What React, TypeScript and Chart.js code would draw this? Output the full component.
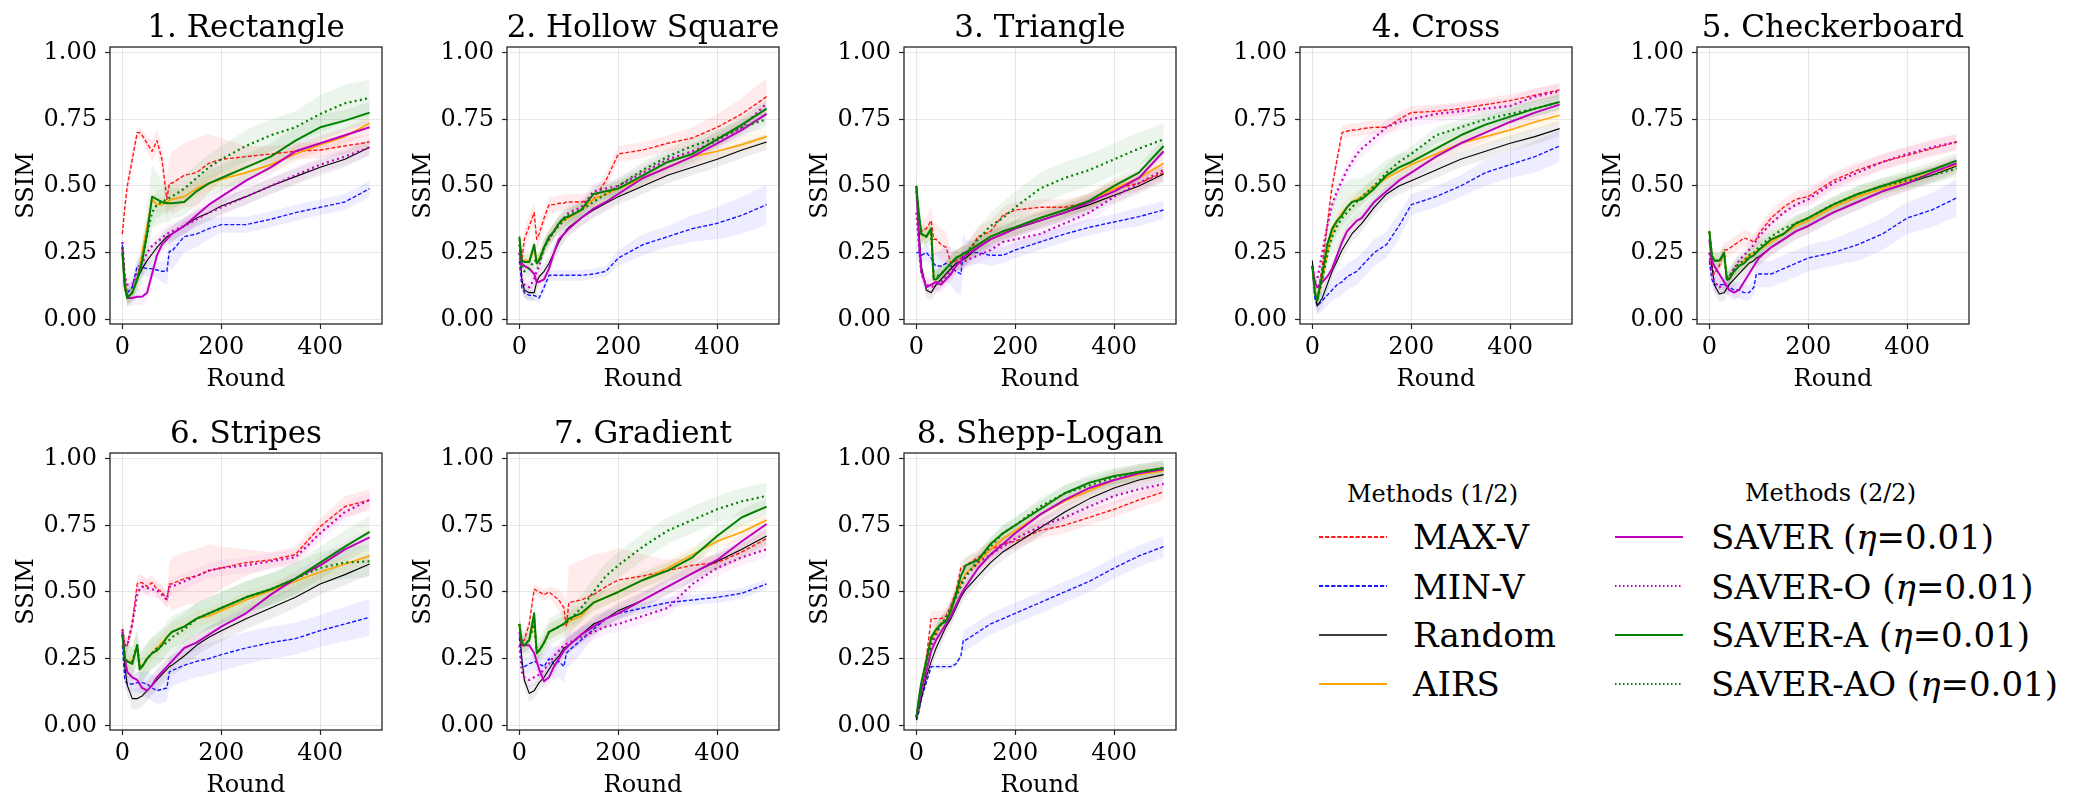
import React, { useEffect, useRef } from "react";
import { Chart, registerables } from "chart.js";
Chart.register(...registerables);

const ROUNDS = [0, 5, 10, 20, 30, 35, 40, 50, 60, 70, 80, 90, 95, 100, 125, 150, 175, 200, 250, 300, 350, 400, 450, 500];
const Y_TICKS = [0, 0.25, 0.5, 0.75, 1.0];
const X_TICKS = [0, 200, 400];
const METHODS = ["MAX-V", "MIN-V", "Random", "AIRS", "SAVER (η=0.01)", "SAVER-O (η=0.01)", "SAVER-A (η=0.01)", "SAVER-AO (η=0.01)"];
const PANEL_TITLES = ["1. Rectangle", "2. Hollow Square", "3. Triangle", "4. Cross", "5. Checkerboard", "6. Stripes", "7. Gradient", "8. Shepp-Logan"];

// ---------- 1. Rectangle ----------
const P1_MAXV = [0.32,0.42,0.50,0.60,0.70,0.70,0.69,0.66,0.63,0.67,0.60,0.45,0.51,0.51,0.54,0.55,0.585,0.60,0.61,0.62,0.63,0.635,0.65,0.665];
const P1_MAXV_SD = [0.02,0.03,0.04,0.04,0.02,0.02,0.02,0.03,0.04,0.04,0.05,0.08,0.10,0.12,0.12,0.13,0.11,0.08,0.04,0.03,0.03,0.03,0.03,0.03];
const P1_MINV = [0.28,0.15,0.10,0.12,0.20,0.20,0.195,0.19,0.19,0.185,0.18,0.18,0.255,0.255,0.31,0.32,0.34,0.355,0.355,0.375,0.40,0.42,0.44,0.49];
const P1_MINV_SD = [0.02,0.03,0.03,0.03,0.03,0.03,0.03,0.03,0.03,0.03,0.04,0.05,0.06,0.07,0.06,0.05,0.04,0.03,0.03,0.03,0.03,0.03,0.03,0.03];
const P1_RANDOM = [0.27,0.15,0.08,0.10,0.15,0.17,0.19,0.22,0.245,0.27,0.29,0.31,0.315,0.32,0.35,0.38,0.40,0.425,0.46,0.50,0.535,0.57,0.60,0.645];
const P1_AIRS = [0.25,0.15,0.08,0.10,0.15,0.20,0.25,0.35,0.45,0.43,0.43,0.44,0.445,0.45,0.46,0.49,0.51,0.525,0.55,0.58,0.62,0.655,0.685,0.735];
const P1_SAVER = [0.27,0.12,0.08,0.08,0.085,0.085,0.085,0.10,0.17,0.24,0.28,0.30,0.31,0.32,0.35,0.39,0.43,0.46,0.52,0.57,0.63,0.66,0.69,0.72];
const P1_SAVERO = [0.29,0.16,0.13,0.13,0.17,0.19,0.21,0.25,0.275,0.29,0.305,0.32,0.325,0.33,0.35,0.375,0.40,0.42,0.46,0.50,0.54,0.58,0.61,0.645];
const P1_SAVERA = [0.25,0.12,0.08,0.10,0.15,0.18,0.22,0.32,0.46,0.45,0.44,0.435,0.435,0.435,0.44,0.48,0.51,0.53,0.57,0.61,0.67,0.72,0.745,0.775];
const P1_SAVERA_SD = [0.03,0.03,0.03,0.04,0.06,0.07,0.08,0.10,0.12,0.10,0.08,0.07,0.07,0.06,0.05,0.05,0.05,0.05,0.05,0.05,0.05,0.05,0.04,0.04];
const P1_SAVERAO = [0.27,0.13,0.09,0.10,0.15,0.18,0.22,0.32,0.40,0.43,0.44,0.45,0.455,0.46,0.49,0.53,0.57,0.60,0.65,0.69,0.72,0.77,0.81,0.83];
const P1_SAVERAO_SD = [0.03,0.03,0.03,0.03,0.04,0.04,0.05,0.05,0.05,0.05,0.05,0.05,0.05,0.05,0.05,0.05,0.05,0.05,0.06,0.06,0.06,0.07,0.07,0.07];

// ---------- 2. Hollow Square ----------
const P2_MAXV = [0.28,0.22,0.30,0.35,0.40,0.30,0.32,0.38,0.43,0.43,0.435,0.435,0.44,0.44,0.44,0.45,0.52,0.62,0.635,0.66,0.68,0.72,0.77,0.835];
const P2_MAXV_SD = [0.04,0.04,0.04,0.04,0.04,0.04,0.04,0.03,0.03,0.03,0.03,0.03,0.03,0.03,0.03,0.03,0.03,0.03,0.03,0.03,0.04,0.05,0.06,0.07];
const P2_MINV = [0.22,0.12,0.10,0.09,0.09,0.085,0.08,0.12,0.165,0.165,0.165,0.165,0.165,0.165,0.165,0.17,0.18,0.23,0.28,0.31,0.34,0.36,0.39,0.43];
const P2_MINV_SD = [0.02,0.02,0.02,0.02,0.02,0.02,0.02,0.02,0.02,0.02,0.02,0.02,0.02,0.02,0.02,0.02,0.02,0.03,0.04,0.04,0.05,0.06,0.07,0.075];
const P2_RANDOM = [0.30,0.15,0.11,0.10,0.10,0.14,0.16,0.18,0.21,0.25,0.29,0.32,0.335,0.345,0.38,0.41,0.435,0.46,0.50,0.54,0.57,0.60,0.635,0.665];
const P2_AIRS = [0.30,0.22,0.22,0.22,0.26,0.22,0.23,0.27,0.31,0.33,0.36,0.37,0.375,0.38,0.41,0.45,0.47,0.49,0.53,0.57,0.61,0.63,0.655,0.685];
const P2_SAVER = [0.25,0.21,0.20,0.19,0.17,0.14,0.14,0.15,0.19,0.25,0.30,0.32,0.33,0.34,0.38,0.415,0.44,0.47,0.53,0.57,0.61,0.66,0.71,0.77];
const P2_SAVERO = [0.25,0.15,0.13,0.12,0.15,0.18,0.20,0.27,0.30,0.33,0.36,0.38,0.39,0.40,0.42,0.48,0.49,0.50,0.55,0.60,0.63,0.67,0.72,0.81];
const P2_SAVERA = [0.31,0.22,0.215,0.215,0.28,0.21,0.22,0.27,0.31,0.33,0.36,0.38,0.383,0.385,0.41,0.47,0.48,0.49,0.54,0.59,0.62,0.675,0.73,0.79];
const P2_SAVERAO = [0.28,0.20,0.18,0.19,0.22,0.22,0.22,0.27,0.30,0.33,0.35,0.37,0.38,0.39,0.41,0.44,0.47,0.50,0.56,0.61,0.65,0.68,0.72,0.75];

// ---------- 3. Triangle ----------
const P3_MAXV = [0.45,0.38,0.33,0.34,0.37,0.30,0.30,0.28,0.27,0.21,0.22,0.23,0.235,0.24,0.31,0.33,0.39,0.41,0.42,0.42,0.44,0.49,0.51,0.55];
const P3_MAXV_SD = [0.05,0.05,0.04,0.04,0.05,0.06,0.06,0.06,0.06,0.04,0.04,0.04,0.04,0.04,0.04,0.04,0.03,0.03,0.03,0.03,0.03,0.03,0.03,0.03];
const P3_MINV = [0.25,0.25,0.24,0.25,0.23,0.21,0.20,0.20,0.21,0.20,0.18,0.17,0.25,0.25,0.25,0.24,0.24,0.26,0.29,0.32,0.345,0.365,0.385,0.41];
const P3_MINV_SD = [0.03,0.03,0.03,0.03,0.03,0.04,0.05,0.06,0.07,0.07,0.08,0.08,0.07,0.05,0.04,0.04,0.03,0.03,0.03,0.03,0.03,0.03,0.035,0.035];
const P3_RANDOM = [0.50,0.35,0.20,0.11,0.10,0.115,0.13,0.15,0.17,0.19,0.21,0.22,0.225,0.23,0.27,0.30,0.32,0.34,0.37,0.40,0.43,0.465,0.50,0.545];
const P3_AIRS = [0.50,0.35,0.32,0.31,0.33,0.15,0.15,0.17,0.19,0.21,0.23,0.24,0.245,0.25,0.28,0.31,0.33,0.345,0.38,0.41,0.445,0.49,0.53,0.585];
const P3_SAVER = [0.50,0.30,0.18,0.12,0.13,0.135,0.14,0.13,0.15,0.17,0.20,0.22,0.23,0.24,0.27,0.30,0.32,0.34,0.37,0.40,0.44,0.48,0.53,0.63];
const P3_SAVERO = [0.40,0.28,0.17,0.13,0.12,0.125,0.13,0.14,0.16,0.18,0.20,0.21,0.215,0.22,0.24,0.26,0.29,0.30,0.32,0.36,0.40,0.46,0.51,0.56];
const P3_SAVERA = [0.50,0.40,0.32,0.31,0.34,0.15,0.15,0.17,0.19,0.21,0.23,0.24,0.245,0.25,0.28,0.31,0.33,0.345,0.38,0.41,0.445,0.50,0.55,0.65];
const P3_SAVERAO = [0.48,0.38,0.32,0.31,0.32,0.16,0.16,0.17,0.19,0.21,0.23,0.24,0.245,0.25,0.30,0.35,0.38,0.42,0.49,0.53,0.56,0.60,0.64,0.675];
const P3_SAVERAO_SD = [0.04,0.04,0.04,0.04,0.04,0.03,0.03,0.03,0.03,0.03,0.03,0.03,0.03,0.03,0.04,0.05,0.06,0.06,0.06,0.06,0.06,0.06,0.06,0.06];

// ---------- 4. Cross ----------
const P4_MAXV = [0.20,0.10,0.08,0.20,0.35,0.43,0.50,0.60,0.70,0.705,0.71,0.71,0.712,0.715,0.72,0.72,0.75,0.775,0.78,0.79,0.805,0.82,0.84,0.86];
const P4_MINV = [0.20,0.08,0.05,0.07,0.09,0.10,0.11,0.13,0.14,0.16,0.17,0.18,0.19,0.20,0.25,0.28,0.35,0.43,0.46,0.50,0.55,0.58,0.61,0.65];
const P4_MINV_SD = [0.03,0.03,0.03,0.04,0.04,0.04,0.04,0.05,0.05,0.05,0.05,0.05,0.05,0.05,0.05,0.05,0.05,0.04,0.04,0.04,0.05,0.05,0.06,0.06];
const P4_RANDOM = [0.22,0.10,0.05,0.08,0.13,0.155,0.18,0.22,0.26,0.29,0.32,0.34,0.35,0.36,0.42,0.47,0.50,0.52,0.56,0.60,0.63,0.66,0.685,0.715];
const P4_AIRS = [0.20,0.10,0.07,0.15,0.25,0.29,0.32,0.37,0.40,0.42,0.44,0.45,0.455,0.46,0.50,0.53,0.555,0.58,0.62,0.66,0.685,0.71,0.74,0.765];
const P4_SAVER = [0.20,0.14,0.12,0.14,0.16,0.175,0.19,0.24,0.29,0.33,0.35,0.37,0.375,0.38,0.44,0.48,0.52,0.55,0.61,0.66,0.70,0.74,0.775,0.805];
const P4_SAVERO = [0.20,0.14,0.15,0.25,0.35,0.39,0.43,0.48,0.52,0.56,0.59,0.62,0.63,0.64,0.68,0.72,0.74,0.75,0.77,0.78,0.79,0.80,0.835,0.855];
const P4_SAVERA = [0.20,0.10,0.07,0.17,0.28,0.31,0.34,0.37,0.39,0.42,0.44,0.445,0.448,0.45,0.49,0.54,0.57,0.59,0.64,0.69,0.73,0.76,0.79,0.815];
const P4_SAVERA_SD = [0.04,0.04,0.04,0.06,0.08,0.09,0.10,0.11,0.11,0.10,0.09,0.08,0.08,0.08,0.07,0.06,0.05,0.04,0.04,0.04,0.03,0.03,0.03,0.03];
const P4_SAVERAO = [0.20,0.10,0.07,0.15,0.24,0.28,0.31,0.35,0.38,0.40,0.42,0.44,0.45,0.46,0.50,0.55,0.59,0.62,0.69,0.72,0.75,0.77,0.79,0.815];

// ---------- 5. Checkerboard ----------
const P5_MAXV = [0.25,0.20,0.17,0.20,0.26,0.26,0.265,0.28,0.29,0.305,0.30,0.29,0.30,0.32,0.38,0.42,0.45,0.46,0.52,0.56,0.59,0.615,0.64,0.665];
const P5_MINV = [0.22,0.15,0.13,0.13,0.13,0.125,0.12,0.11,0.11,0.10,0.10,0.12,0.17,0.17,0.17,0.19,0.21,0.23,0.25,0.28,0.32,0.38,0.41,0.455];
const P5_MINV_SD = [0.03,0.03,0.03,0.03,0.03,0.03,0.03,0.03,0.03,0.03,0.03,0.03,0.04,0.05,0.05,0.05,0.05,0.05,0.05,0.06,0.06,0.06,0.065,0.07];
const P5_RANDOM = [0.33,0.20,0.13,0.095,0.10,0.115,0.13,0.15,0.17,0.19,0.21,0.22,0.23,0.235,0.27,0.30,0.33,0.35,0.40,0.44,0.48,0.51,0.54,0.575];
const P5_AIRS = [0.33,0.24,0.22,0.22,0.24,0.16,0.15,0.18,0.20,0.22,0.24,0.25,0.255,0.26,0.29,0.32,0.35,0.37,0.42,0.46,0.49,0.52,0.55,0.58];
const P5_SAVER = [0.30,0.22,0.20,0.17,0.14,0.125,0.11,0.10,0.11,0.14,0.17,0.20,0.215,0.23,0.27,0.30,0.33,0.35,0.40,0.44,0.48,0.51,0.55,0.585];
const P5_SAVERO = [0.25,0.17,0.14,0.12,0.13,0.145,0.16,0.19,0.22,0.24,0.26,0.28,0.295,0.31,0.36,0.40,0.43,0.45,0.51,0.55,0.59,0.62,0.645,0.665];
const P5_SAVERA = [0.33,0.24,0.22,0.22,0.25,0.15,0.15,0.18,0.20,0.21,0.23,0.24,0.25,0.26,0.30,0.32,0.36,0.38,0.43,0.47,0.50,0.53,0.56,0.595];
const P5_SAVERAO = [0.33,0.24,0.22,0.22,0.24,0.16,0.16,0.19,0.21,0.22,0.24,0.25,0.26,0.27,0.31,0.34,0.36,0.38,0.43,0.47,0.50,0.52,0.54,0.565];

// ---------- 6. Stripes ----------
const P6_MAXV = [0.36,0.30,0.30,0.38,0.53,0.535,0.535,0.52,0.535,0.51,0.50,0.47,0.53,0.53,0.55,0.56,0.58,0.59,0.61,0.62,0.64,0.745,0.82,0.845];
const P6_MAXV_SD = [0.04,0.04,0.03,0.03,0.03,0.03,0.03,0.03,0.03,0.03,0.03,0.03,0.08,0.10,0.10,0.10,0.10,0.08,0.05,0.03,0.03,0.03,0.04,0.04];
const P6_MINV = [0.30,0.17,0.155,0.155,0.16,0.16,0.16,0.155,0.14,0.13,0.135,0.14,0.20,0.205,0.225,0.24,0.25,0.265,0.29,0.31,0.325,0.355,0.38,0.405];
const P6_MINV_SD = [0.03,0.03,0.03,0.03,0.04,0.04,0.04,0.05,0.05,0.05,0.05,0.05,0.06,0.06,0.06,0.06,0.06,0.06,0.06,0.06,0.06,0.06,0.065,0.07];
const P6_RANDOM = [0.35,0.22,0.15,0.10,0.10,0.105,0.11,0.13,0.15,0.17,0.19,0.21,0.22,0.225,0.26,0.30,0.33,0.355,0.40,0.44,0.48,0.53,0.565,0.605];
const P6_AIRS = [0.34,0.25,0.24,0.24,0.30,0.23,0.22,0.25,0.27,0.29,0.31,0.33,0.34,0.35,0.37,0.40,0.41,0.43,0.47,0.505,0.54,0.575,0.605,0.635];
const P6_SAVER = [0.35,0.25,0.20,0.18,0.17,0.155,0.14,0.13,0.15,0.18,0.20,0.22,0.23,0.24,0.29,0.31,0.34,0.37,0.42,0.49,0.55,0.60,0.66,0.705];
const P6_SAVERO = [0.36,0.30,0.30,0.38,0.49,0.51,0.52,0.515,0.51,0.505,0.49,0.47,0.52,0.52,0.54,0.56,0.58,0.59,0.60,0.615,0.63,0.72,0.80,0.845];
const P6_SAVERA = [0.34,0.25,0.24,0.23,0.30,0.21,0.22,0.25,0.27,0.28,0.30,0.33,0.34,0.35,0.37,0.40,0.42,0.44,0.48,0.51,0.55,0.61,0.67,0.725];
const P6_SAVERAO = [0.34,0.25,0.24,0.24,0.30,0.22,0.22,0.25,0.27,0.29,0.30,0.31,0.32,0.33,0.36,0.40,0.42,0.44,0.48,0.51,0.55,0.59,0.61,0.615];

// ---------- 7. Gradient ----------
const P7_MAXV = [0.35,0.31,0.32,0.38,0.51,0.505,0.50,0.49,0.50,0.485,0.47,0.44,0.37,0.46,0.47,0.49,0.52,0.545,0.56,0.58,0.60,0.61,0.65,0.70];
const P7_MAXV_SD = [0.03,0.03,0.03,0.03,0.02,0.02,0.02,0.02,0.02,0.03,0.04,0.05,0.10,0.14,0.15,0.15,0.13,0.12,0.08,0.04,0.03,0.03,0.03,0.03];
const P7_MINV = [0.33,0.23,0.22,0.23,0.24,0.235,0.23,0.22,0.25,0.23,0.24,0.22,0.27,0.28,0.32,0.36,0.40,0.42,0.44,0.46,0.47,0.48,0.495,0.53];
const P7_MINV_SD = [0.03,0.03,0.03,0.03,0.03,0.03,0.04,0.05,0.06,0.06,0.06,0.06,0.06,0.06,0.05,0.03,0.03,0.02,0.02,0.02,0.02,0.02,0.02,0.02];
const P7_RANDOM = [0.36,0.25,0.17,0.12,0.13,0.145,0.16,0.18,0.21,0.24,0.26,0.29,0.295,0.30,0.34,0.38,0.40,0.43,0.47,0.52,0.57,0.615,0.66,0.71];
const P7_AIRS = [0.38,0.30,0.30,0.32,0.40,0.28,0.28,0.31,0.35,0.36,0.37,0.38,0.385,0.39,0.41,0.46,0.48,0.50,0.545,0.59,0.64,0.69,0.725,0.77];
const P7_SAVER = [0.35,0.30,0.30,0.30,0.27,0.24,0.21,0.165,0.18,0.22,0.25,0.28,0.29,0.30,0.34,0.37,0.40,0.42,0.47,0.52,0.57,0.62,0.69,0.755];
const P7_SAVERO = [0.30,0.20,0.18,0.17,0.18,0.185,0.19,0.21,0.23,0.26,0.28,0.30,0.305,0.31,0.33,0.35,0.37,0.38,0.41,0.44,0.53,0.59,0.63,0.66];
const P7_SAVERA = [0.38,0.31,0.30,0.32,0.42,0.27,0.28,0.31,0.35,0.36,0.37,0.38,0.39,0.40,0.42,0.46,0.48,0.50,0.545,0.58,0.63,0.71,0.78,0.82];
const P7_SAVERAO = [0.38,0.31,0.30,0.32,0.38,0.28,0.28,0.31,0.35,0.36,0.37,0.38,0.385,0.39,0.44,0.50,0.56,0.60,0.67,0.73,0.77,0.81,0.84,0.86];

// ---------- 8. Shepp-Logan ----------
const P8_MAXV = [0.03,0.08,0.15,0.25,0.40,0.40,0.40,0.40,0.41,0.45,0.50,0.59,0.595,0.60,0.63,0.66,0.68,0.69,0.73,0.75,0.78,0.81,0.845,0.875];
const P8_MINV = [0.02,0.05,0.10,0.16,0.22,0.22,0.22,0.22,0.22,0.22,0.23,0.26,0.32,0.32,0.35,0.38,0.40,0.42,0.46,0.50,0.54,0.59,0.635,0.67];
const P8_MINV_SD = [0.01,0.01,0.01,0.01,0.01,0.01,0.01,0.01,0.01,0.01,0.01,0.01,0.04,0.04,0.04,0.04,0.04,0.04,0.04,0.04,0.04,0.04,0.04,0.04];
const P8_RANDOM = [0.02,0.06,0.10,0.18,0.24,0.265,0.29,0.33,0.37,0.40,0.44,0.48,0.495,0.51,0.56,0.61,0.65,0.68,0.74,0.80,0.85,0.89,0.92,0.94];
const P8_AIRS = [0.03,0.09,0.14,0.23,0.32,0.335,0.35,0.38,0.40,0.44,0.48,0.53,0.55,0.57,0.61,0.66,0.70,0.73,0.79,0.84,0.88,0.92,0.94,0.955];
const P8_SAVER = [0.03,0.08,0.13,0.20,0.28,0.30,0.32,0.35,0.38,0.41,0.45,0.49,0.505,0.52,0.59,0.64,0.68,0.72,0.79,0.845,0.89,0.92,0.945,0.96];
const P8_SAVERO = [0.03,0.08,0.13,0.22,0.30,0.32,0.34,0.38,0.40,0.44,0.48,0.53,0.545,0.56,0.61,0.64,0.67,0.70,0.745,0.78,0.82,0.86,0.885,0.905];
const P8_SAVERA = [0.03,0.10,0.16,0.24,0.33,0.345,0.36,0.38,0.39,0.43,0.49,0.56,0.58,0.60,0.62,0.68,0.72,0.75,0.81,0.87,0.91,0.935,0.95,0.965];
const P8_SAVERAO = [0.03,0.09,0.15,0.23,0.31,0.33,0.35,0.38,0.40,0.44,0.48,0.52,0.54,0.56,0.62,0.67,0.72,0.75,0.82,0.87,0.90,0.93,0.95,0.965];

const SD = 0.03;

const PANEL_SERIES = [
  [P1_MAXV, P1_MINV, P1_RANDOM, P1_AIRS, P1_SAVER, P1_SAVERO, P1_SAVERA, P1_SAVERAO],
  [P2_MAXV, P2_MINV, P2_RANDOM, P2_AIRS, P2_SAVER, P2_SAVERO, P2_SAVERA, P2_SAVERAO],
  [P3_MAXV, P3_MINV, P3_RANDOM, P3_AIRS, P3_SAVER, P3_SAVERO, P3_SAVERA, P3_SAVERAO],
  [P4_MAXV, P4_MINV, P4_RANDOM, P4_AIRS, P4_SAVER, P4_SAVERO, P4_SAVERA, P4_SAVERAO],
  [P5_MAXV, P5_MINV, P5_RANDOM, P5_AIRS, P5_SAVER, P5_SAVERO, P5_SAVERA, P5_SAVERAO],
  [P6_MAXV, P6_MINV, P6_RANDOM, P6_AIRS, P6_SAVER, P6_SAVERO, P6_SAVERA, P6_SAVERAO],
  [P7_MAXV, P7_MINV, P7_RANDOM, P7_AIRS, P7_SAVER, P7_SAVERO, P7_SAVERA, P7_SAVERAO],
  [P8_MAXV, P8_MINV, P8_RANDOM, P8_AIRS, P8_SAVER, P8_SAVERO, P8_SAVERA, P8_SAVERAO],
];
const PANEL_SPREADS: (number | number[])[][] = [
  [P1_MAXV_SD, P1_MINV_SD, SD, SD, SD, SD, P1_SAVERA_SD, P1_SAVERAO_SD],
  [P2_MAXV_SD, P2_MINV_SD, SD, SD, SD, SD, SD, SD],
  [P3_MAXV_SD, P3_MINV_SD, SD, SD, SD, SD, SD, P3_SAVERAO_SD],
  [0.025, P4_MINV_SD, SD, SD, SD, SD, P4_SAVERA_SD, SD],
  [SD, P5_MINV_SD, SD, SD, SD, SD, SD, SD],
  [P6_MAXV_SD, P6_MINV_SD, 0.04, SD, SD, SD, 0.06, 0.06],
  [P7_MAXV_SD, P7_MINV_SD, SD, SD, SD, SD, SD, 0.05],
  [SD, P8_MINV_SD, SD, SD, SD, SD, SD, SD],
];

const STYLES = [
  { color: "rgba(255,0,0,0.9)", band: "rgba(255,0,0,0.08)", width: 1.4, dash: [4, 2] },
  { color: "rgba(0,0,255,0.9)", band: "rgba(0,0,255,0.07)", width: 1.4, dash: [4, 2] },
  { color: "#000000", band: "rgba(0,0,0,0.07)", width: 1.1, dash: [] },
  { color: "#ffa500", band: "rgba(255,165,0,0.08)", width: 1.7, dash: [] },
  { color: "#bf00bf", band: "rgba(191,0,191,0.06)", width: 2, dash: [] },
  { color: "#bf00bf", band: "rgba(191,0,191,0.06)", width: 2.2, dash: [2, 3.3] },
  { color: "#008000", band: "rgba(0,128,0,0.08)", width: 2, dash: [] },
  { color: "#008000", band: "rgba(0,128,0,0.08)", width: 2.2, dash: [2, 3.3] },
];

const PLOT_LEFTS = [110, 507, 904, 1300, 1697];
const PLOT_TOPS = [47, 453];
const PLOT_W = 272;
const PLOT_H = 277;
const OFF_L = 110;
const OFF_T = 47;
const CANVAS_W = 402;
const CANVAS_H = 400;

const FONT = "'DejaVu Serif', serif";

const decoPlugin = {
  id: "deco",
  afterDraw(chart: any, _args: any, opts: any) {
    const { ctx, chartArea: a } = chart;
    ctx.save();
    ctx.strokeStyle = "#262626";
    ctx.lineWidth = 1.3;
    ctx.strokeRect(a.left, a.top, a.right - a.left, a.bottom - a.top);
    ctx.fillStyle = "#000";
    ctx.textAlign = "center";
    ctx.textBaseline = "alphabetic";
    ctx.font = "31px " + FONT;
    ctx.fillText(opts.title, (a.left + a.right) / 2, a.top - 10);
    ctx.font = "24px " + FONT;
    ctx.fillText("Round", (a.left + a.right) / 2, a.bottom + 62);
    ctx.translate(a.left - 77, (a.top + a.bottom) / 2);
    ctx.rotate(-Math.PI / 2);
    ctx.fillText("SSIM", 0, 0);
    ctx.restore();
  },
};

function buildDatasets(series: number[][], spreads: (number | number[])[]) {
  const ds: any[] = [];
  series.forEach((vals, k) => {
    const sd = spreads[k];
    const s = (i: number) => (typeof sd === "number" ? sd : sd[i]);
    const lowerIdx = ds.length;
    ds.push({
      data: vals.map((v, i) => ({ x: ROUNDS[i], y: v - s(i) })),
      borderColor: "rgba(0,0,0,0)",
      borderWidth: 0,
      pointRadius: 0,
      fill: false,
      order: 100 - k,
    });
    ds.push({
      data: vals.map((v, i) => ({ x: ROUNDS[i], y: v + s(i) })),
      borderColor: "rgba(0,0,0,0)",
      borderWidth: 0,
      pointRadius: 0,
      backgroundColor: STYLES[k].band,
      fill: lowerIdx,
      order: 100 - k,
    });
  });
  series.forEach((vals, k) => {
    ds.push({
      label: METHODS[k],
      data: vals.map((v, i) => ({ x: ROUNDS[i], y: v })),
      borderColor: STYLES[k].color,
      borderWidth: STYLES[k].width,
      borderDash: STYLES[k].dash,
      borderCapStyle: "butt",
      borderJoinStyle: "round",
      pointRadius: 0,
      fill: false,
      tension: 0,
      order: 8 - k,
    });
  });
  return ds;
}

function Panel({ index }: { index: number }) {
  const ref = useRef<HTMLCanvasElement>(null);
  const row = index < 5 ? 0 : 1;
  const col = index < 5 ? index : index - 5;
  const left = PLOT_LEFTS[col] - OFF_L;
  const top = PLOT_TOPS[row] - OFF_T;
  useEffect(() => {
    const chart = new Chart(ref.current as HTMLCanvasElement, {
      type: "line",
      data: { datasets: buildDatasets(PANEL_SERIES[index], PANEL_SPREADS[index]) },
      plugins: [decoPlugin],
      options: {
        animation: false,
        responsive: false,
        events: [],
        layout: { padding: { left: 0, top: OFF_T, right: CANVAS_W - OFF_L - PLOT_W, bottom: 0 } },
        plugins: {
          legend: { display: false },
          tooltip: { enabled: false },
          title: { display: false },
          // @ts-ignore
          deco: { title: PANEL_TITLES[index] },
        },
        scales: {
          x: {
            type: "linear",
            min: -25,
            max: 525,
            afterBuildTicks: (sc: any) => { sc.ticks = X_TICKS.map((v) => ({ value: v })); },
            afterFit: (sc: any) => { sc.height = CANVAS_H - OFF_T - PLOT_H; },
            ticks: { autoSkip: false, maxRotation: 0, padding: 4, color: "#000", font: { family: FONT, size: 24 }, callback: (v: any) => String(v) },
            grid: { color: "rgba(0,0,0,0.09)", lineWidth: 1, tickLength: 5, tickColor: "#262626", tickWidth: 1.2 },
            border: { display: false },
          },
          y: {
            type: "linear",
            min: -0.0175,
            max: 1.021,
            afterBuildTicks: (sc: any) => { sc.ticks = Y_TICKS.map((v) => ({ value: v })); },
            afterFit: (sc: any) => { sc.width = OFF_L; },
            ticks: { autoSkip: false, padding: 8, color: "#000", font: { family: FONT, size: 24 }, callback: (v: any) => Number(v).toFixed(2) },
            grid: { color: "rgba(0,0,0,0.09)", lineWidth: 1, tickLength: 5, tickColor: "#262626", tickWidth: 1.2 },
            border: { display: false },
          },
        },
      } as any,
    });
    return () => chart.destroy();
  }, [index]);
  return (
    <canvas
      ref={ref}
      width={CANVAS_W}
      height={CANVAS_H}
      style={{ position: "absolute", left, top, width: CANVAS_W, height: CANVAS_H, display: "block" }}
    />
  );
}

const LEGEND_ROW_Y = [536.7, 586, 634.5, 683.5];
const LEGEND_COLS = [
  { lineX: 1319, textX: 1413, titleX: 1347, titleY: 493.5, title: "Methods (1/2)", items: [0, 1, 2, 3] },
  { lineX: 1615, textX: 1711, titleX: 1745, titleY: 492.5, title: "Methods (2/2)", items: [4, 5, 6, 7] },
];
const LEGEND_DASH = ["4.2 1.9", "4.2 1.9", "", "", "", "1.5 2.5", "", "1.5 2.5"];

function Label({ text }: { text: string }) {
  const parts = text.split("η");
  return (
    <>
      {parts.map((p, i) => (
        <React.Fragment key={i}>
          {p}
          {i < parts.length - 1 ? <i>η</i> : null}
        </React.Fragment>
      ))}
    </>
  );
}

function Legend() {
  return (
    <>
      {LEGEND_COLS.map((c, ci) => (
        <React.Fragment key={ci}>
          <div
            style={{
              position: "absolute", left: c.titleX, top: c.titleY - 11.5, fontFamily: FONT, fontSize: 24,
              lineHeight: "24px", whiteSpace: "nowrap", color: "#000",
            }}
          >
            {c.title}
          </div>
          {c.items.map((k, r) => (
            <React.Fragment key={k}>
              <svg style={{ position: "absolute", left: c.lineX, top: LEGEND_ROW_Y[r] - 5 }} width={68} height={10}>
                <line x1={0} y1={5} x2={68} y2={5} stroke={STYLES[k].color} strokeWidth={k === 2 ? 1.4 : 2}
                  strokeDasharray={LEGEND_DASH[k] || undefined} />
              </svg>
              <div
                style={{
                  position: "absolute", left: c.textX, top: LEGEND_ROW_Y[r] - 16.4, fontFamily: FONT, fontSize: 34,
                  lineHeight: "34px", whiteSpace: "nowrap", color: "#000",
                }}
              >
                <Label text={METHODS[k]} />
              </div>
            </React.Fragment>
          ))}
        </React.Fragment>
      ))}
    </>
  );
}

export default function App() {
  return (
    <div style={{ position: "fixed", left: 0, top: 0, width: 2075, height: 810, background: "#fff", overflow: "hidden" }}>
      {PANEL_TITLES.map((_, i) => (
        <Panel key={i} index={i} />
      ))}
      <Legend />
    </div>
  );
}
